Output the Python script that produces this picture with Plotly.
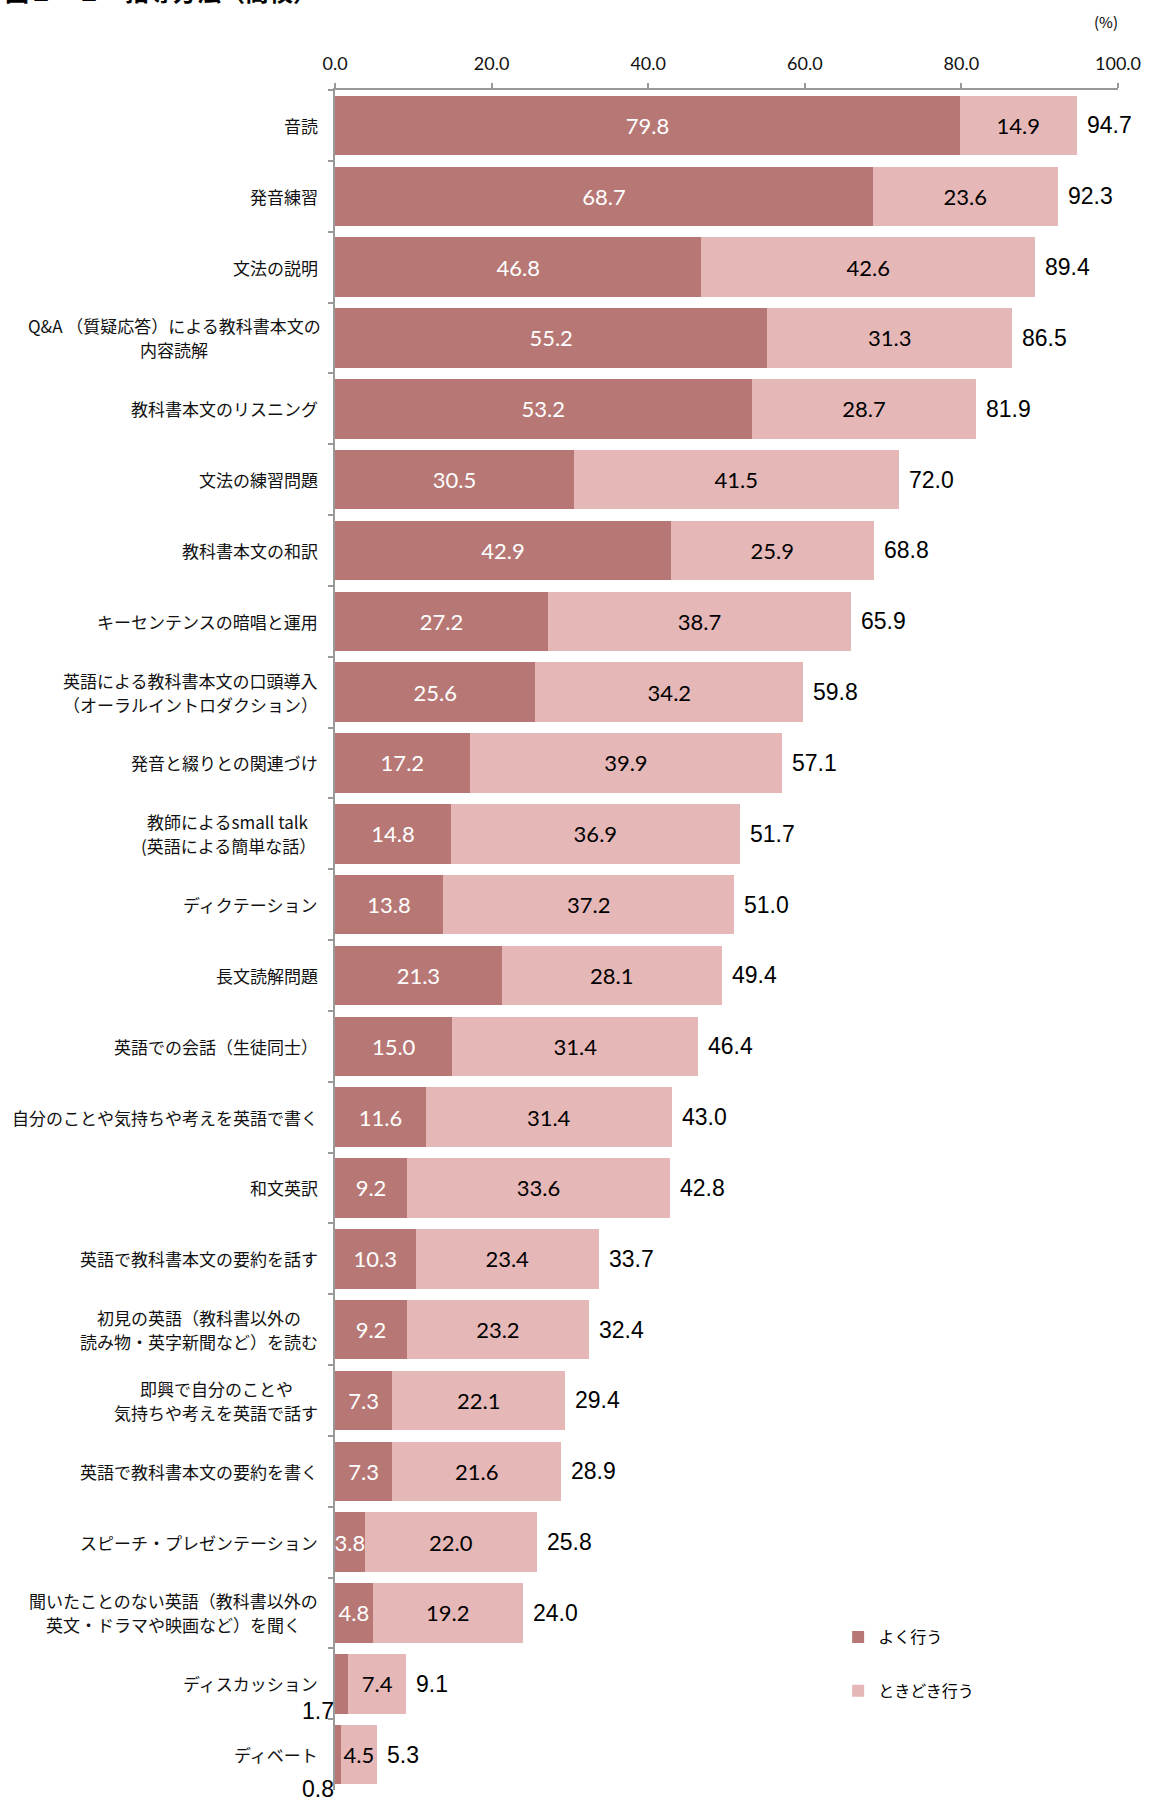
import plotly.graph_objects as go

categories = [
    "音読",
    "発音練習",
    "文法の説明",
    "Q&A （質疑応答）による教科書本文の<br>内容読解",
    "教科書本文のリスニング",
    "文法の練習問題",
    "教科書本文の和訳",
    "キーセンテンスの暗唱と運用",
    "英語による教科書本文の口頭導入<br>（オーラルイントロダクション）",
    "発音と綴りとの関連づけ",
    "教師によるsmall talk<br>(英語による簡単な話）",
    "ディクテーション",
    "長文読解問題",
    "英語での会話（生徒同士）",
    "自分のことや気持ちや考えを英語で書く",
    "和文英訳",
    "英語で教科書本文の要約を話す",
    "初見の英語（教科書以外の<br>読み物・英字新聞など）を読む",
    "即興で自分のことや<br>気持ちや考えを英語で話す",
    "英語で教科書本文の要約を書く",
    "スピーチ・プレゼンテーション",
    "聞いたことのない英語（教科書以外の<br>英文・ドラマや映画など）を聞く",
    "ディスカッション",
    "ディベート",
]

often = [79.8, 68.7, 46.8, 55.2, 53.2, 30.5, 42.9, 27.2, 25.6, 17.2, 14.8, 13.8,
         21.3, 15.0, 11.6, 9.2, 10.3, 9.2, 7.3, 7.3, 3.8, 4.8, 1.7, 0.8]
sometimes = [14.9, 23.6, 42.6, 31.3, 28.7, 41.5, 25.9, 38.7, 34.2, 39.9, 36.9, 37.2,
             28.1, 31.4, 31.4, 33.6, 23.4, 23.2, 22.1, 21.6, 22.0, 19.2, 7.4, 4.5]
totals = [94.7, 92.3, 89.4, 86.5, 81.9, 72.0, 68.8, 65.9, 59.8, 57.1, 51.7, 51.0,
          49.4, 46.4, 43.0, 42.8, 33.7, 32.4, 29.4, 28.9, 25.8, 24.0, 9.1, 5.3]

series_names = ["よく行う", "ときどき行う"]
x_tick_values = [0, 20, 40, 60, 80, 100]
x_tick_labels = ["0.0", "20.0", "40.0", "60.0", "80.0", "100.0"]

DARK = "#B77875"
LIGHT = "#E6B7B7"
AXIS = "#999999"
JP_FONT = "Noto Sans CJK JP"
NUM_FONT = "Lato"
TOT_FONT = "Liberation Sans"
CAT_SIZE = 17

W, H = 1149, 1798
ML, MR, MT, MB = 335, 25, 90, 8
PW, PH = W - ML - MR, H - MT - MB

small_cut = 3.0  # dark-segment values below this are labelled outside the bar
often_text = [f"{v:.1f}" if v >= small_cut else "" for v in often]

fig = go.Figure()
fig.add_trace(go.Bar(
    y=categories, x=often, orientation="h", name=series_names[0],
    marker=dict(color=DARK, line=dict(width=0)),
    text=often_text, textposition="inside", insidetextanchor="middle",
    textangle=0, constraintext="none",
    textfont=dict(family=NUM_FONT, size=22, color="white"),
    legendgroup="a", hoverinfo="skip",
))
fig.add_trace(go.Bar(
    y=categories, x=sometimes, orientation="h", name=series_names[1],
    marker=dict(color=LIGHT, line=dict(width=0)),
    text=[f"{v:.1f}" for v in sometimes], textposition="inside",
    insidetextanchor="middle", textangle=0, constraintext="none",
    textfont=dict(family=NUM_FONT, size=22, color="black"),
    legendgroup="b", hoverinfo="skip",
))


def est_width(s, size=CAT_SIZE):
    w = 0.0
    for ch in s:
        if ch == " ":
            w += 0.25 * size
        elif ord(ch) < 128:
            w += 0.55 * size
        else:
            w += size
    return w


annotations = []
# category labels: lines centred on each other, block right-aligned to the axis
LINE_H = 24
for c in categories:
    lines = c.split("<br>")
    n = len(lines)
    widest = max(est_width(l) for l in lines)
    for i, ln in enumerate(lines):
        annotations.append(dict(
            x=0, xref="paper", y=c, yref="y", text=ln, showarrow=False,
            xanchor="center", yanchor="middle", align="center",
            xshift=-17 - widest / 2, yshift=((n - 1) / 2 - i) * LINE_H,
            font=dict(family=JP_FONT, size=CAT_SIZE, color="#111111"),
        ))

# totals
for c, t in zip(categories, totals):
    annotations.append(dict(
        x=t, xref="x", y=c, yref="y", text=f"{t:.1f}", showarrow=False,
        xanchor="left", yanchor="middle", xshift=8,
        font=dict(family=TOT_FONT, size=23, color="black"),
    ))
# small dark-segment values placed below-left of the bar
small_shift = {categories[-2]: -27, categories[-1]: -34}
for c, v in zip(categories, often):
    if v < small_cut:
        annotations.append(dict(
            x=0, xref="x", y=c, yref="y", text=f"{v:.1f}", showarrow=False,
            xanchor="right", yanchor="middle", xshift=1,
            yshift=small_shift.get(c, -30),
            font=dict(family=TOT_FONT, size=23, color="black"),
        ))
# unit
annotations.append(dict(
    x=(1112 - ML) / PW, xref="paper", y=(MT + PH - 22) / PH, yref="paper",
    text="(%)", showarrow=False, xanchor="center", yanchor="middle",
    font=dict(family=JP_FONT, size=15, color="black"),
))
# title (cut off at top of the page in the original)
annotations.append(dict(
    x=(0 - ML) / PW, xref="paper", y=(PH + MT + 9) / PH, yref="paper",
    text="<b>図２－２　指導方法（高校）</b>", showarrow=False,
    xanchor="left", yanchor="middle",
    font=dict(family=JP_FONT, size=24, color="black"),
))

fig.update_layout(
    width=W, height=H,
    margin=dict(l=ML, r=MR, t=MT, b=MB, pad=0),
    paper_bgcolor="white", plot_bgcolor="white",
    barmode="stack", bargap=0.16,
    showlegend=True,
    legend=dict(
        x=(842 - ML) / PW, y=(PH - (1620 - MT)) / PH, xanchor="left", yanchor="top",
        traceorder="grouped", tracegroupgap=30, itemwidth=30,
        font=dict(family=JP_FONT, size=16, color="black"),
        bgcolor="rgba(0,0,0,0)",
    ),
    xaxis=dict(
        side="top", range=[0, 100], tickvals=x_tick_values, ticktext=x_tick_labels,
        showline=True, linecolor=AXIS, linewidth=1.5, showgrid=False, zeroline=False,
        ticks="outside", ticklen=5, tickcolor=AXIS, tickwidth=1.5,
        ticklabelstandoff=6,
        tickfont=dict(family=NUM_FONT, size=18, color="#111111"),
        fixedrange=True,
    ),
    yaxis=dict(
        type="category", autorange="reversed", showticklabels=False,
        showline=True, linecolor=AXIS, linewidth=1.5, showgrid=False, zeroline=False,
        ticks="outside", ticklen=5, tickcolor=AXIS, tickwidth=1.5,
        tickson="boundaries", fixedrange=True,
    ),
    annotations=annotations,
    hovermode=False,
)

fig.write_html("out.html", config={"displayModeBar": False},
               post_script="document.body.style.margin='0';")
